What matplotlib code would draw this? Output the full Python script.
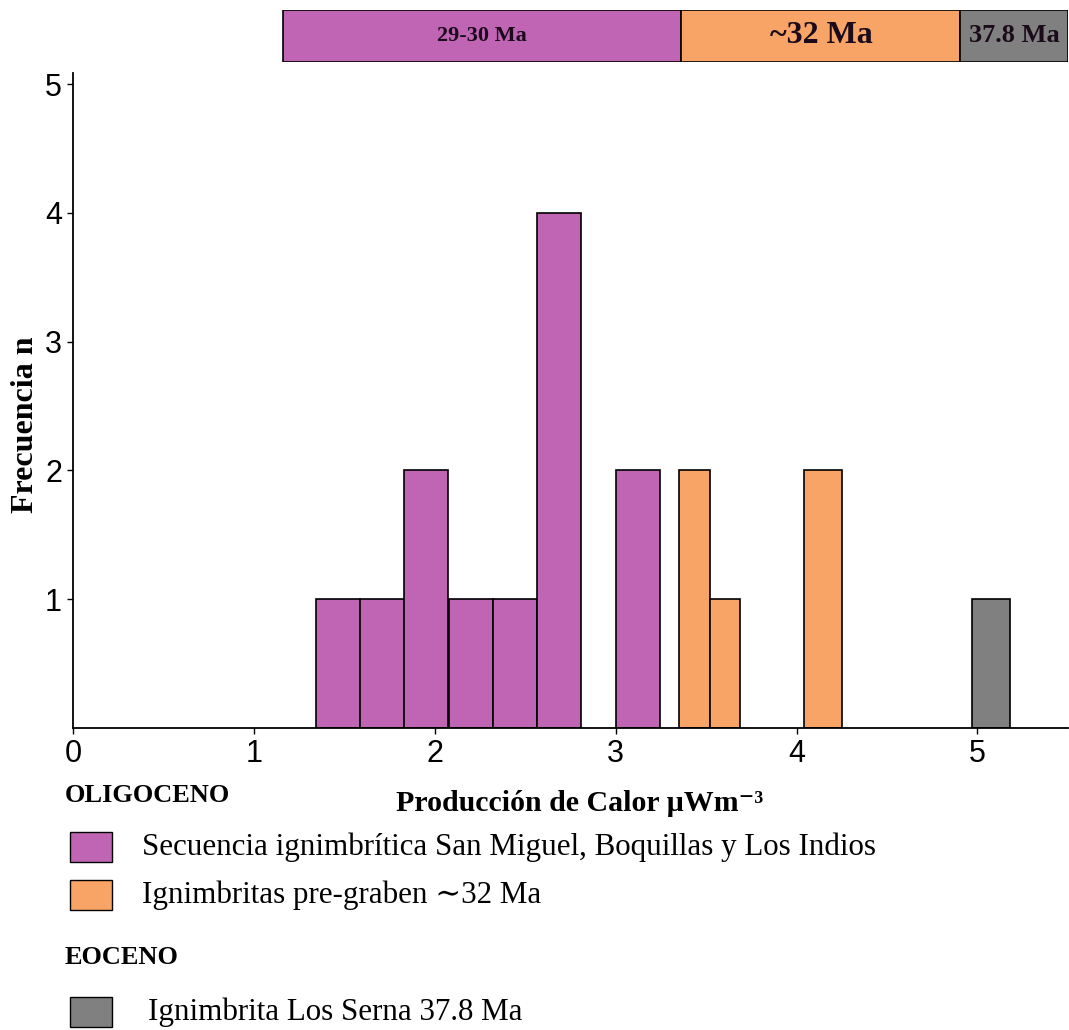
import matplotlib
matplotlib.use('Agg')
import matplotlib.pyplot as plt
from matplotlib.patches import Rectangle

# Datos del histograma (bordes izquierdos, anchos y frecuencias)
morado_izq = [1.344, 1.587, 1.831, 2.077, 2.321, 2.566, 3.003]
morado_ancho = [0.244] * 7
morado_n = [1, 1, 2, 1, 1, 4, 2]

naranja_izq = [3.352, 3.519, 4.039]
naranja_ancho = [0.167, 0.167, 0.212]
naranja_n = [2, 1, 2]

gris_izq = [4.967]
gris_ancho = [0.212]
gris_n = [1]

# Barra de edades superior
edades = ['29-30 Ma', '~32 Ma', '37.8 Ma']
edades_inicio = [1.161, 3.363, 4.906]
edades_ancho = [2.202, 1.543, 0.597]
edades_tam = [16, 23, 19]

MORADO = '#c065b4'
NARANJA = '#f8a467'
GRIS = '#808080'
colores = [MORADO, NARANJA, GRIS]

serif = ['Liberation Serif', 'DejaVu Serif']
sans = 'Liberation Sans'

fig = plt.figure(figsize=(10.69, 10.30), dpi=100)
ax = fig.add_axes([0.0683, 0.2932, 0.9307, 0.6358])

ax.bar(morado_izq, morado_n, width=morado_ancho, align='edge', color=MORADO, edgecolor='black', linewidth=1.2)
ax.bar(naranja_izq, naranja_n, width=naranja_ancho, align='edge', color=NARANJA, edgecolor='black', linewidth=1.2)
ax.bar(gris_izq, gris_n, width=gris_ancho, align='edge', color=GRIS, edgecolor='black', linewidth=1.2)

ax.set_xlim(0, 5.5)
ax.set_ylim(0, 5.085)
ax.set_xticks([0, 1, 2, 3, 4, 5])
ax.set_yticks([1, 2, 3, 4, 5])
for s in ['top', 'right']:
    ax.spines[s].set_visible(False)
for s in ['left', 'bottom']:
    ax.spines[s].set_linewidth(1.3)
ax.tick_params(axis='both', length=4, width=1, labelsize=22)
ax.tick_params(axis='y', pad=4)
ax.tick_params(axis='x', pad=4)
for lab in ax.get_xticklabels() + ax.get_yticklabels():
    lab.set_fontfamily(sans)

ax.set_ylabel('Frecuencia n', fontfamily=serif, fontweight='bold', fontsize=23)
ax.yaxis.set_label_coords(-0.033, 0.4626)
ax.set_xlabel('Producción de Calor µWm⁻³', fontfamily=serif, fontweight='bold', fontsize=21.5)
ax.xaxis.set_label_coords(0.5095, -0.094)

# Barra superior de edades
axt = fig.add_axes([0.0683, 0.9398, 0.9307, 0.0505])
axt.barh([0] * 3, edades_ancho, left=edades_inicio, height=1, color=colores, edgecolor='black', linewidth=1.2)
axt.set_xlim(0, 5.5)
axt.set_ylim(-0.5, 0.5)
axt.axis('off')
for txt, x0, w, fs in zip(edades, edades_inicio, edades_ancho, edades_tam):
    axt.text(x0 + w / 2, 0, txt, ha='center', va='center', fontfamily=serif, fontweight='bold', fontsize=fs, color='#1a0a1a')

# Leyenda manual
leyenda = [
    ('OLIGOCENO', None, 796),
    ('Secuencia ignimbrítica San Miguel, Boquillas y Los Indios', MORADO, 847),
    ('Ignimbritas pre-graben ∼32 Ma', NARANJA, 895),
    ('EOCENO', None, 958),
    ('Ignimbrita Los Serna 37.8 Ma', GRIS, 1012),
]
W, H = 1069, 1030
for txt, col, ypx in leyenda:
    yf = 1 - ypx / H
    if col is None:
        fig.text(65 / W, yf, txt, fontfamily=serif, fontweight='bold', fontsize=19, va='center')
    else:
        fig.patches.append(Rectangle((70 / W, yf - 15 / H), 42 / W, 30 / H, transform=fig.transFigure,
                                     facecolor=col, edgecolor='black', linewidth=1))
        xt = 142 if col != GRIS else 148
        fig.text(xt / W, yf, txt, fontfamily=serif, fontsize=22.3, va='center')

fig.savefig('out.png', dpi=100)
